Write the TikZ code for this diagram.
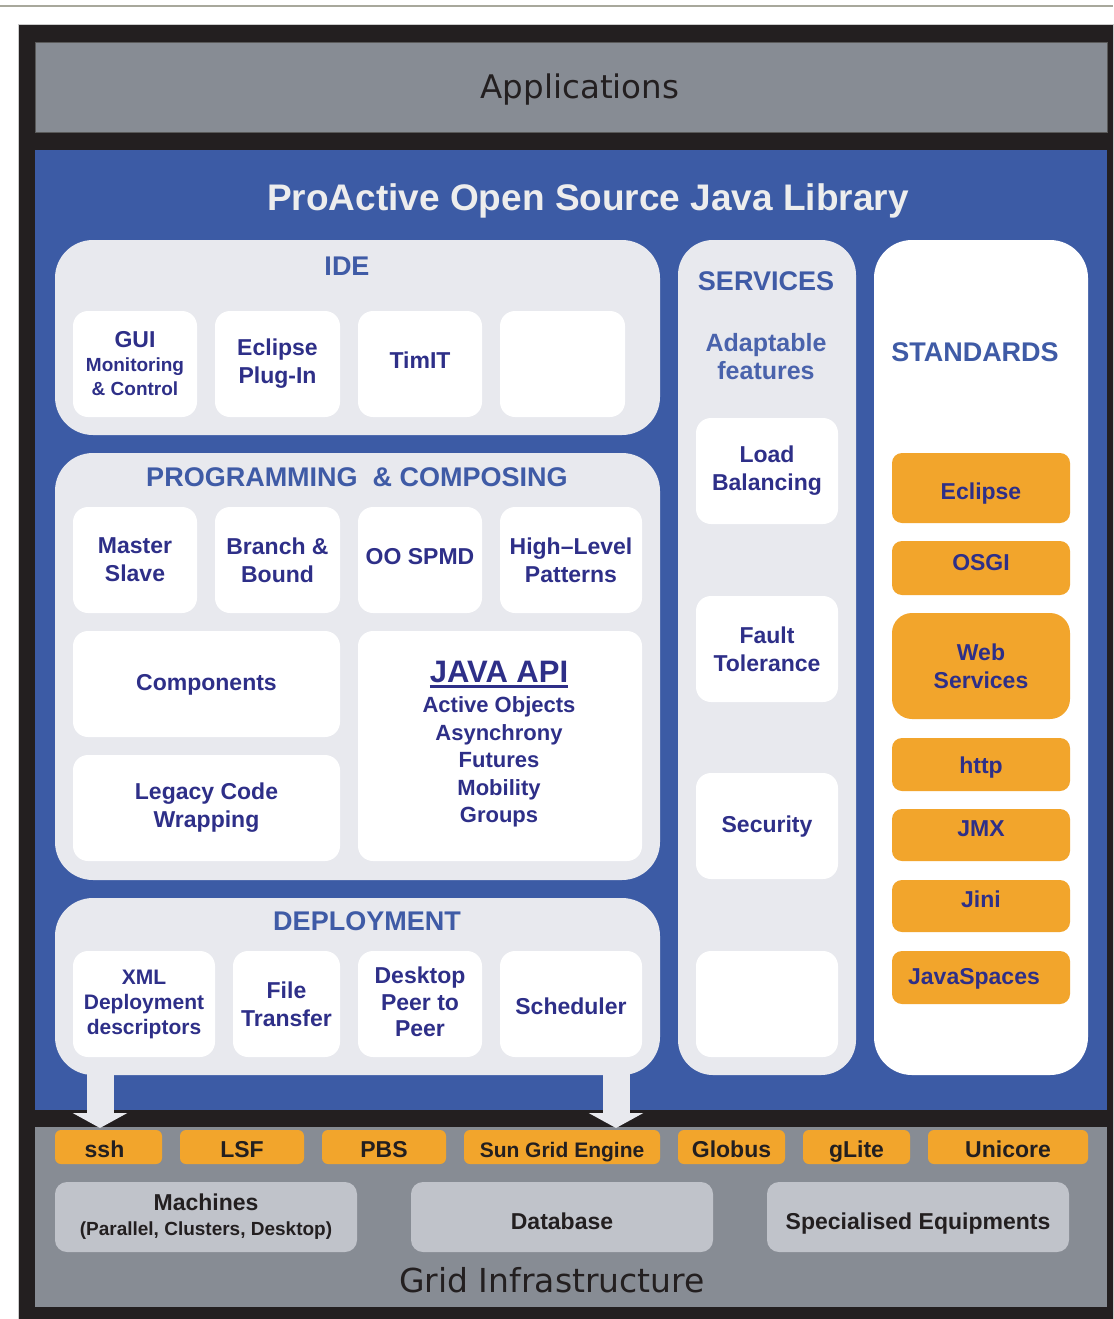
\documentclass[tikz,border=0pt]{standalone}
\usepackage{fontspec}
\setmainfont{Liberation Sans}
\newfontfamily\luc{DejaVu Sans}
\usetikzlibrary{arrows.meta}
\definecolor{fblack}{HTML}{231F20}
\definecolor{gband}{HTML}{878C94}
\definecolor{pblue}{HTML}{3C5BA5}
\definecolor{lightbox}{HTML}{E8E9EE}
\definecolor{orangebox}{HTML}{F2A52C}
\definecolor{navy}{HTML}{2E2F88}
\definecolor{tblue}{HTML}{3F5BA6}
\definecolor{tblueb}{HTML}{4A63AC}
\definecolor{lgray}{HTML}{C0C3CA}
\definecolor{darktext}{HTML}{231F20}
\definecolor{topline}{HTML}{A8A89C}
\newcommand\fs[2]{\fontsize{#1}{#2}\selectfont}
\newcommand\bx[7]{\node[#6, minimum width={#4-#2}, minimum height={#5-#3}] (#1) at ({(#2+#4)/2},{(#3+#5)/2}) {#7};}
\begin{document}
\begin{tikzpicture}[x=1pt,y=-1pt,
  every node/.style={inner sep=0pt, outer sep=0pt, align=center},
  sect/.style={rectangle, rounded corners=38pt, fill=lightbox},
  wbox/.style={rectangle, rounded corners=15pt, fill=white, text=navy, font=\bfseries\fs{23}{28}},
  obox/.style={rectangle, rounded corners=10pt, fill=orangebox, text=navy, font=\bfseries\fs{23}{28}},
  tag/.style={rectangle, rounded corners=6pt, fill=orangebox, text=darktext, font=\bfseries\fs{23}{26}, th=21},
  gbox/.style={rectangle, rounded corners=12pt, fill=lgray, text=darktext, font=\bfseries\fs{23}{27}},
  th/.style={text height=#1pt, text depth=0pt},
  oneline/.style={text height=15pt, text depth=2pt},
  sectitle/.style={text=tblue, font=\bfseries\fs{27}{32}},
  blockarrow/.style={draw=lightbox, line width=27pt, -{Triangle[length=15pt,width=54pt]}}
]
\useasboundingbox (0,0) rectangle (1113,1319);
\fill[white] (0,0) rectangle (1113,1319);
\draw[line width=2pt, topline] (0,6) -- (1113,6);

% layers
\bx{frame}{18}{25}{1113}{1319}{rectangle, fill=fblack, draw=gray!40, line width=1pt}{}
\bx{app}{35}{43}{1107}{133}{rectangle, fill=gband, draw=gray!70!black, line width=1pt}{}
\node[text=darktext, font=\luc\fs{32.5}{36}] (apptitle) at (580,90) {Applications};
\bx{lib}{35}{150}{1107}{1110}{rectangle, fill=pblue}{}
\node[text=white!93!black, font=\bfseries\fs{37}{40}, th=26.5] (libtitle) at (588,197) {ProActive Open Source Java Library};
\bx{grid}{35}{1127}{1107}{1307}{rectangle, fill=gband}{}
\node[text=darktext, font=\luc\fs{33}{36}] (gridtitle) at (552,1280) {Grid Infrastructure};

% IDE
\bx{ide}{55}{240}{660}{435}{sect}{}
\node[sectitle] (idet) at (347,266) {IDE};
\bx{gui}{73}{311}{197}{417}{wbox, font=\bfseries\fs{19}{24}}{{\fs{23}{25}GUI}\\Monitoring\\\& Control}
\bx{eclp}{215}{311}{340}{417}{wbox}{Eclipse\\Plug-In}
\bx{timit}{358}{311}{482}{417}{wbox, th=8}{TimIT}
\bx{ideempty}{500}{311}{625}{417}{wbox}{}

% Programming & composing
\bx{prog}{55}{453}{660}{880}{sect}{}
\node[sectitle] (progt) at (357,477) {PROGRAMMING\ \ \& COMPOSING};
\bx{ms}{73}{507}{197}{613}{wbox}{Master\\Slave}
\bx{bb}{215}{507}{340}{613}{wbox}{Branch \&\\Bound}
\bx{spmd}{358}{507}{482}{613}{wbox, th=9}{OO SPMD}
\bx{hlp}{500}{507}{642}{613}{wbox}{High--Level\\Patterns}
\bx{comp}{73}{631}{340}{737}{wbox, oneline}{Components}
\bx{legacy}{73}{755}{340}{861}{wbox}{Legacy Code\\Wrapping}
\bx{java}{358}{631}{642}{861}{wbox}{}
\node[text=navy, font=\bfseries\fs{31}{34}] (javat) at (499,672) {JAVA API};
\draw[navy, line width=3pt] ([yshift=-4pt]javat.south west) -- ([yshift=-4pt]javat.south east);
\node[text=navy, font=\bfseries\fs{22}{27.5}] (javal) at (499,762) {Active Objects\\Asynchrony\\Futures\\Mobility\\Groups};

% Deployment
\bx{dep}{55}{898}{660}{1075}{sect}{}
\node[sectitle] (dept) at (367,921) {DEPLOYMENT};
\bx{xml}{73}{951}{215}{1057}{wbox, font=\bfseries\fs{21}{25}}{XML\\Deployment\\descriptors}
\bx{ft}{233}{951}{340}{1057}{wbox}{File\\Transfer}
\bx{p2p}{358}{951}{482}{1057}{wbox, font=\bfseries\fs{23}{26.5}}{\raisebox{4pt}{Desktop}\\\raisebox{4pt}{Peer to}\\\raisebox{4pt}{Peer}}
\bx{sched}{500}{951}{642}{1057}{wbox, th=21}{Scheduler}

% Services
\bx{serv}{678}{240}{856}{1075}{sect, rounded corners=35pt}{}
\node[sectitle] (servt) at (766,281) {SERVICES};
\node[text=tblueb, font=\bfseries\fs{25}{28}] (adapt) at (766,357) {Adaptable\\features};
\bx{lb}{696}{418}{838}{524}{wbox}{Load\\Balancing}
\bx{fault}{696}{596}{838}{702}{wbox}{Fault\\Tolerance}
\bx{secu}{696}{773}{838}{879}{wbox, oneline}{Security}
\bx{servempty}{696}{951}{838}{1057}{wbox}{}

% Standards
\bx{std}{874}{240}{1088}{1075}{rectangle, fill=white, rounded corners=38pt}{}
\node[sectitle] (stdt) at (975,352) {STANDARDS};
\bx{oecl}{892}{453}{1070}{523}{obox, th=23}{Eclipse}
\bx{osgi}{892}{541}{1070}{595}{obox, oneline}{\raisebox{4pt}{OSGI}}
\bx{ws}{892}{613}{1070}{719}{obox, rounded corners=20pt}{Web\\Services}
\bx{http}{892}{738}{1070}{791}{obox, th=17}{http}
\bx{jmx}{892}{809}{1070}{861}{obox, oneline}{\raisebox{5pt}{JMX}}
\bx{jini}{892}{880}{1070}{932}{obox, oneline}{\raisebox{5pt}{Jini}}
\bx{jsp}{892}{951}{1070}{1004}{obox, oneline}{\hspace*{-14pt}JavaSpaces}

% Grid tags
\bx{ssh}{55}{1130}{162}{1164}{tag}{\hspace*{-8pt}ssh}
\bx{lsf}{180}{1130}{304}{1164}{tag}{LSF}
\bx{pbs}{322}{1130}{446}{1164}{tag}{PBS}
\bx{sge}{464}{1130}{660}{1164}{tag, font=\bfseries\fs{21}{24}}{Sun Grid Engine}
\bx{globus}{678}{1130}{785}{1164}{tag}{Globus}
\bx{glite}{803}{1130}{910}{1164}{tag}{gLite}
\bx{unicore}{928}{1130}{1088}{1164}{tag}{Unicore}

\bx{mach}{55}{1182}{357}{1252}{gbox, font=\bfseries\fs{19}{25}}{{\fs{23}{27}Machines}\\(Parallel, Clusters, Desktop)}
\bx{db}{411}{1182}{713}{1252}{gbox, th=25}{Database}
\bx{spec}{767}{1182}{1069}{1252}{gbox, th=25}{Specialised Equipments}

% arrows
\coordinate (a1s) at (100,1070);
\coordinate (a1e) at (100,1128);
\coordinate (a2s) at (616,1070);
\coordinate (a2e) at (616,1128);
\draw[blockarrow] (a1s) -- (a1e);
\draw[blockarrow] (a2s) -- (a2e);
\end{tikzpicture}
\end{document}
